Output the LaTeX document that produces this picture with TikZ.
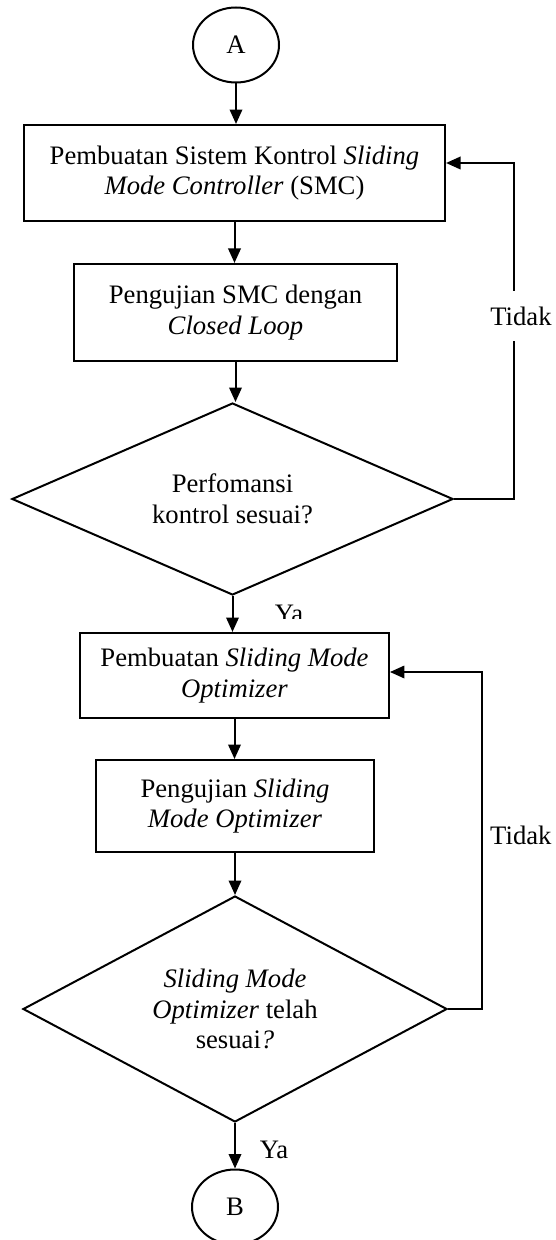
\documentclass[tikz,border=0pt]{standalone}
\usepackage{fontspec}
\setmainfont{Liberation Serif}
\usetikzlibrary{shapes.geometric, arrows.meta, positioning, calc}

\begin{document}
\begin{tikzpicture}[x=0.45pt, y=-0.45pt, line width=0.9pt,
    font=\fontsize{12}{13.8}\selectfont,
    proc/.style={draw, rectangle, align=center, inner sep=2pt},
    decision/.style={draw, diamond, align=center, inner sep=0pt},
    connector/.style={draw, ellipse, minimum width=38.7pt, minimum height=33.75pt, inner sep=0pt},
    flow/.style={-{Triangle[length=6.5pt, width=5.6pt]}},
    lbl/.style={inner sep=1pt}]
    \useasboundingbox (0,0) rectangle (555,1240);

    % Off-page connectors
    \node[connector] (conA) at (236,45) {A};
    \node[connector] (conB) at (235,1207) {B};

    % SMC stage
    \node[proc, minimum width=189.5pt, minimum height=43.2pt] (smcDesign) at (234.5,173) {Pembuatan Sistem Kontrol \textit{Sliding}\\\textit{Mode Controller} (SMC)};
    \node[proc, minimum width=145.4pt, minimum height=43.7pt] (smcTest) at (235.5,312.5) {Pengujian SMC dengan\\\textit{Closed Loop}};
    \node[decision, minimum width=198.5pt, minimum height=86.4pt, aspect=2.3] (smcCheck) at (232.5,499) {Perfomansi\\kontrol sesuai?};

    % Optimizer stage
    \node[proc, minimum width=139pt, minimum height=38.3pt] (smoDesign) at (234.5,675.5) {Pembuatan \textit{Sliding Mode}\\\textit{Optimizer}};
    \node[proc, minimum width=125.1pt, minimum height=41.4pt] (smoTest) at (235,806) {Pengujian \textit{Sliding}\\\textit{Mode Optimizer}};
    \node[decision, minimum width=190.8pt, minimum height=101.7pt, aspect=1.9] (smoCheck) at (235,1009) {\textit{Sliding Mode}\\\textit{Optimizer} telah\\sesuai\textit{?}};

    % Main flow
    \draw[flow] (conA) -- (conA |- smcDesign.north);
    \draw[flow] (smcDesign.south) -- (smcDesign.south |- smcTest.north);
    \draw[flow] (smcTest.south) -- (smcTest.south |- smcCheck.north);
    \draw[flow] (smcCheck.south) -- (smcCheck.south |- smoDesign.north);
    \draw[flow] (smoDesign.south) -- (smoDesign.south |- smoTest.north);
    \draw[flow] (smoTest.south) -- (smoTest.south |- smoCheck.north);
    \draw[flow] (smoCheck.south) -- (smoCheck.south |- conB.north);

    % Loops back
    \coordinate (loopA) at (514,163);
    \draw[flow] (smcCheck.east) -| (loopA) -- (loopA -| smcDesign.east);
    \coordinate (loopB) at (482,672);
    \draw[flow] (smoCheck.east) -| (loopB) -- (loopB -| smoDesign.east);

    % Labels
    \node[lbl, fill=white, inner ysep=7pt] (noA) at (521,316) {Tidak};
    \node[lbl, anchor=west] (noB) at (487,835) {Tidak};
    \begin{scope}
        \clip (250,595) rectangle (330,618);
        \node[lbl] (yesA) at (289,614) {Ya};
    \end{scope}
    \node[lbl] (yesB) at (274,1150) {Ya};
\end{tikzpicture}
\end{document}
